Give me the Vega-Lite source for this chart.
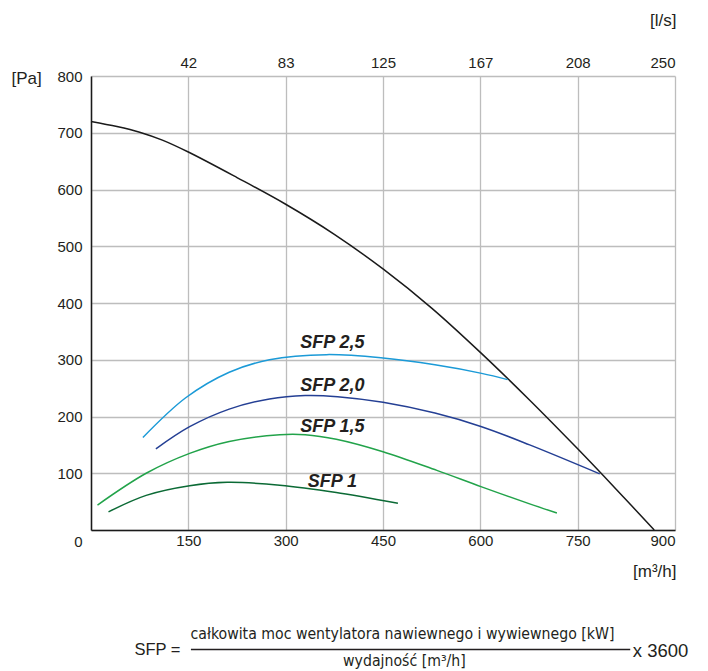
{
  "$schema": "https://vega.github.io/schema/vega-lite/v6.json",
  "padding": {"left": 11, "top": 11, "right": 5, "bottom": 3},
  "spacing": 43,
  "config": {
    "view": {"stroke": null},
    "font": "Liberation Sans",
    "axis": {
      "labelFont": "Liberation Sans",
      "labelFontSize": 15,
      "labelColor": "#231f20",
      "titleFont": "Liberation Sans",
      "titleFontSize": 17,
      "titleFontWeight": "normal",
      "titleColor": "#231f20",
      "ticks": false,
      "gridColor": "#bdbdbd",
      "gridWidth": 1.3,
      "gridOpacity": 1
    }
  },
  "datasets": {
    "fan": [
      {"q": 0, "p": 720}, {"q": 40, "p": 711}, {"q": 75, "p": 701}, {"q": 110, "p": 687},
      {"q": 150, "p": 666}, {"q": 225, "p": 621}, {"q": 300, "p": 574}, {"q": 375, "p": 521},
      {"q": 450, "p": 460}, {"q": 525, "p": 391}, {"q": 600, "p": 313}, {"q": 675, "p": 230},
      {"q": 750, "p": 143}, {"q": 810, "p": 71}, {"q": 868, "p": 0}
    ],
    "sfp": [
      {"s": "SFP 2,5", "q": 80, "p": 163}, {"s": "SFP 2,5", "q": 146, "p": 233}, {"s": "SFP 2,5", "q": 213, "p": 278},
      {"s": "SFP 2,5", "q": 275, "p": 300}, {"s": "SFP 2,5", "q": 363, "p": 309}, {"s": "SFP 2,5", "q": 450, "p": 303},
      {"s": "SFP 2,5", "q": 530, "p": 291}, {"s": "SFP 2,5", "q": 602, "p": 276}, {"s": "SFP 2,5", "q": 642, "p": 265},
      {"s": "SFP 2,0", "q": 100, "p": 143}, {"s": "SFP 2,0", "q": 152, "p": 182}, {"s": "SFP 2,0", "q": 213, "p": 213},
      {"s": "SFP 2,0", "q": 275, "p": 231}, {"s": "SFP 2,0", "q": 330, "p": 237}, {"s": "SFP 2,0", "q": 380, "p": 235},
      {"s": "SFP 2,0", "q": 450, "p": 225}, {"s": "SFP 2,0", "q": 530, "p": 206}, {"s": "SFP 2,0", "q": 602, "p": 182},
      {"s": "SFP 2,0", "q": 676, "p": 150}, {"s": "SFP 2,0", "q": 784, "p": 99},
      {"s": "SFP 1,5", "q": 10, "p": 44}, {"s": "SFP 1,5", "q": 85, "p": 100}, {"s": "SFP 1,5", "q": 152, "p": 135},
      {"s": "SFP 1,5", "q": 213, "p": 156}, {"s": "SFP 1,5", "q": 291, "p": 168}, {"s": "SFP 1,5", "q": 330, "p": 168},
      {"s": "SFP 1,5", "q": 378, "p": 160}, {"s": "SFP 1,5", "q": 450, "p": 138}, {"s": "SFP 1,5", "q": 533, "p": 105},
      {"s": "SFP 1,5", "q": 602, "p": 76}, {"s": "SFP 1,5", "q": 676, "p": 46}, {"s": "SFP 1,5", "q": 718, "p": 30},
      {"s": "SFP 1", "q": 27, "p": 32}, {"s": "SFP 1", "q": 85, "p": 61}, {"s": "SFP 1", "q": 152, "p": 78},
      {"s": "SFP 1", "q": 210, "p": 84}, {"s": "SFP 1", "q": 291, "p": 79}, {"s": "SFP 1", "q": 378, "p": 66},
      {"s": "SFP 1", "q": 473, "p": 47}
    ],
    "labels": [
      {"s": "SFP 2,5", "q": 372, "p": 320},
      {"s": "SFP 2,0", "q": 372, "p": 245},
      {"s": "SFP 1,5", "q": 372, "p": 172},
      {"s": "SFP 1", "q": 372, "p": 75}
    ],
    "formula": [
      {"part": "lhs", "t": "SFP =", "x": 67, "y": 34},
      {"part": "rhs", "t": "x 3600", "x": 835, "y": 30},
      {"part": "num", "t": "całkowita moc wentylatora nawiewnego i wywiewnego [kW]", "x": 480, "y": 66},
      {"part": "den", "t": "wydajność [m³/h]", "x": 483, "y": 12}
    ],
    "bar": [{"x": 154, "x2": 831, "y": 45}]
  },
  "vconcat": [
    {
      "width": 584,
      "height": 454,
      "resolve": {"axis": {"x": "independent"}},
      "layer": [
        {
          "data": {"name": "fan"},
          "mark": {"type": "line", "color": "#1a1a1a", "strokeWidth": 1.5, "interpolate": "catmull-rom"},
          "encoding": {
            "x": {
              "field": "q", "type": "quantitative",
              "scale": {"domain": [0, 900], "nice": false},
              "axis": {
                "orient": "bottom",
                "values": [0, 150, 300, 450, 600, 750, 900],
                "labelExpr": "datum.value === 0 ? '' : datum.label",
                "labelPadding": 3,
                "domainColor": "#1a1a1a",
                "domainWidth": 1.5,
                "grid": true,
                "title": "[m³/h]",
                "titleAlign": "right",
                "titleBaseline": "alphabetic",
                "titleX": 585,
                "titleY": 46
              }
            },
            "y": {
              "field": "p", "type": "quantitative",
              "scale": {"domain": [0, 800], "nice": false},
              "axis": {
                "values": [0, 100, 200, 300, 400, 500, 600, 700, 800],
                "labelPadding": 9,
                "labelOffset": {"condition": {"test": "datum.value === 0", "value": 11}, "value": 0},
                "domainColor": "#1a1a1a",
                "domainWidth": 1.5,
                "grid": true,
                "title": "[Pa]",
                "titleAngle": 0,
                "titleAlign": "left",
                "titleBaseline": "alphabetic",
                "titleX": -80,
                "titleY": 7
              }
            }
          }
        },
        {
          "data": {"name": "sfp"},
          "mark": {"type": "line", "strokeWidth": 1.5, "interpolate": "catmull-rom"},
          "encoding": {
            "x": {
              "field": "q", "type": "quantitative",
              "axis": {
                "orient": "top",
                "values": [150, 300, 450, 600, 750, 900],
                "labelExpr": "{'150':'42','300':'83','450':'125','600':'167','750':'208','900':'250'}[datum.value + '']",
                "labelPadding": 6,
                "domain": false,
                "grid": false,
                "title": "[l/s]",
                "titleAlign": "right",
                "titleBaseline": "alphabetic",
                "titleX": 585,
                "titleY": -51
              }
            },
            "y": {"field": "p", "type": "quantitative"},
            "detail": {"field": "s"},
            "color": {
              "field": "s", "type": "nominal", "legend": null,
              "scale": {
                "domain": ["SFP 2,5", "SFP 2,0", "SFP 1,5", "SFP 1"],
                "range": ["#1b9ad7", "#243f94", "#22a34a", "#0b6a35"]
              }
            }
          }
        },
        {
          "data": {"name": "labels"},
          "mark": {"type": "text", "font": "Liberation Sans", "fontSize": 18, "fontWeight": "bold", "fontStyle": "italic", "color": "#231f20", "align": "center", "baseline": "alphabetic"},
          "encoding": {
            "x": {"field": "q", "type": "quantitative", "axis": null},
            "y": {"field": "p", "type": "quantitative"},
            "text": {"field": "s"}
          }
        }
      ]
    },
    {
      "width": 584,
      "height": 50,
      "layer": [
        {
          "data": {"name": "bar"},
          "mark": {"type": "rule", "color": "#231f20", "strokeWidth": 1.3},
          "encoding": {
            "x": {"field": "x", "type": "quantitative", "scale": {"domain": [0, 900], "nice": false}, "axis": null},
            "x2": {"field": "x2"},
            "y": {"field": "y", "type": "quantitative", "scale": {"domain": [0, 100], "nice": false}, "axis": null}
          }
        },
        {
          "data": {"name": "formula"},
          "transform": [{"filter": "datum.part === 'lhs'"}],
          "mark": {"type": "text", "font": "Liberation Sans", "fontSize": 16.5, "color": "#231f20", "align": "left", "baseline": "alphabetic"},
          "encoding": {
            "x": {"field": "x", "type": "quantitative"},
            "y": {"field": "y", "type": "quantitative"},
            "text": {"field": "t"}
          }
        },
        {
          "data": {"name": "formula"},
          "transform": [{"filter": "datum.part === 'rhs'"}],
          "mark": {"type": "text", "font": "Liberation Sans", "fontSize": 18.5, "color": "#231f20", "align": "left", "baseline": "alphabetic"},
          "encoding": {
            "x": {"field": "x", "type": "quantitative"},
            "y": {"field": "y", "type": "quantitative"},
            "text": {"field": "t"}
          }
        },
        {
          "data": {"name": "formula"},
          "transform": [{"filter": "datum.part === 'num' || datum.part === 'den'"}],
          "mark": {"type": "text", "font": "DejaVu Sans Condensed, Liberation Sans, sans-serif", "fontSize": 15.7, "color": "#231f20", "align": "center", "baseline": "alphabetic"},
          "encoding": {
            "x": {"field": "x", "type": "quantitative"},
            "y": {"field": "y", "type": "quantitative"},
            "text": {"field": "t"}
          }
        }
      ]
    }
  ]
}
